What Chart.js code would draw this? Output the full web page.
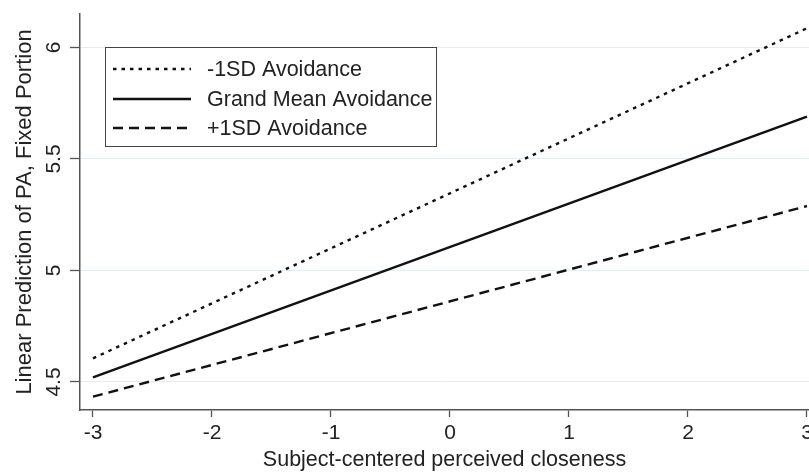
<!DOCTYPE html>
<html>
<head>
<meta charset="utf-8">
<script src="https://cdn.jsdelivr.net/npm/chart.js@4"></script>
<style>
  html, body { margin: 0; padding: 0; background: #fff; }
  #wrap { width: 809px; height: 472px; position: relative; }
</style>
</head>
<body>
<div id="wrap"><canvas id="predGraph"></canvas></div>
<script>
// values: predicted PA at closeness = -3 and +3
const closeness = [-3, 3];
const lowAvoid = [4.606, 6.086];
const meanAvoid = [4.521, 5.690];
const highAvoid = [4.434, 5.289];
const seriesNames = ['-1SD Avoidance', 'Grand Mean Avoidance', '+1SD Avoidance'];
const xTicks = [-3, -2, -1, 0, 1, 2, 3];
const yTicks = [4.5, 5, 5.5, 6];

const FONT = "'Liberation Sans', Arial, sans-serif";
const dashes = [[3.5, 5], [], [10, 6]];

function pts(ys) {
  return closeness.map((x, i) => ({ x: x, y: ys[i] }));
}

// Stata-style boxed legend with line samples
const boxLegend = {
  id: 'boxLegend',
  afterDraw(chart) {
    const ctx = chart.ctx;
    const a = chart.chartArea;
    const bx = a.left + 25, by = a.top + 33, bw = 331, bh = 99;
    ctx.save();
    ctx.fillStyle = '#fff';
    ctx.fillRect(bx, by, bw, bh);
    ctx.strokeStyle = '#444';
    ctx.lineWidth = 1;
    ctx.strokeRect(bx + 0.5, by + 0.5, bw, bh);
    ctx.font = '21.5px ' + FONT;
    ctx.textBaseline = 'middle';
    ctx.fillStyle = '#222';
    const rows = [by + 22, by + 52, by + 81];
    seriesNames.forEach((name, i) => {
      ctx.beginPath();
      ctx.setLineDash(dashes[i]);
      ctx.lineWidth = 2.4;
      ctx.strokeStyle = '#111';
      ctx.moveTo(bx + 8, rows[i]);
      ctx.lineTo(bx + 86, rows[i]);
      ctx.stroke();
      ctx.setLineDash([]);
      ctx.fillText(name, bx + 102, rows[i] + 1);
    });
    ctx.restore();
  }
};

// y tick labels are rotated like in the original
const rotatedYLabels = {
  id: 'rotatedYLabels',
  afterDraw(chart) {
    const ctx = chart.ctx;
    const y = chart.scales.y;
    ctx.save();
    ctx.font = '21px ' + FONT;
    ctx.fillStyle = '#222';
    ctx.textAlign = 'center';
    ctx.textBaseline = 'alphabetic';
    yTicks.forEach(v => {
      ctx.save();
      ctx.translate(60, y.getPixelForValue(v));
      ctx.rotate(-Math.PI / 2);
      ctx.fillText(String(v), 0, 0);
      ctx.restore();
    });
    ctx.restore();
  }
};

new Chart(document.getElementById('predGraph'), {
  type: 'line',
  data: {
    datasets: [
      { label: seriesNames[0], data: pts(lowAvoid), borderDash: dashes[0] },
      { label: seriesNames[1], data: pts(meanAvoid), borderDash: dashes[1] },
      { label: seriesNames[2], data: pts(highAvoid), borderDash: dashes[2] }
    ].map(d => Object.assign(d, {
      borderColor: '#111',
      borderWidth: 2.4,
      pointRadius: 0,
      fill: false,
      tension: 0
    }))
  },
  options: {
    responsive: true,
    maintainAspectRatio: false,
    animation: false,
    layout: { padding: { top: 14, left: 0, right: 0, bottom: 0 } },
    plugins: {
      legend: { display: false },
      tooltip: { enabled: false }
    },
    scales: {
      x: {
        type: 'linear',
        min: -3.109,
        max: 3.017,
        afterBuildTicks: s => { s.ticks = xTicks.map(v => ({ value: v })); },
        afterFit: s => { s.height = 62; s.paddingLeft = 0; s.paddingRight = 0; },
        ticks: {
          autoSkip: false,
          maxRotation: 0,
          padding: 4,
          color: '#222',
          font: { family: FONT, size: 21 }
        },
        grid: { drawOnChartArea: false, tickLength: 7, tickColor: '#555', tickWidth: 1.3 },
        border: { color: '#555', width: 1.5 },
        title: {
          display: true,
          text: 'Subject-centered perceived closeness',
          color: '#222',
          font: { family: FONT, size: 21.5, lineHeight: 1 },
          padding: { top: 0, bottom: 1 }
        }
      },
      y: {
        type: 'linear',
        min: 4.3744,
        max: 6.150,
        afterBuildTicks: s => { s.ticks = yTicks.map(v => ({ value: v })); },
        afterFit: s => { s.width = 80; s.paddingTop = 0; s.paddingBottom = 0; },
        ticks: { display: false },
        grid: { color: '#e4eef0', lineWidth: 1, tickLength: 10, tickColor: '#555', tickWidth: 1.3 },
        border: { color: '#555', width: 1.5 },
        title: {
          display: true,
          text: 'Linear Prediction of PA, Fixed Portion',
          color: '#222',
          font: { family: FONT, size: 22, lineHeight: 1 },
          padding: { top: 14, bottom: 0 }
        }
      }
    }
  },
  plugins: [rotatedYLabels, boxLegend]
});
</script>
</body>
</html>
